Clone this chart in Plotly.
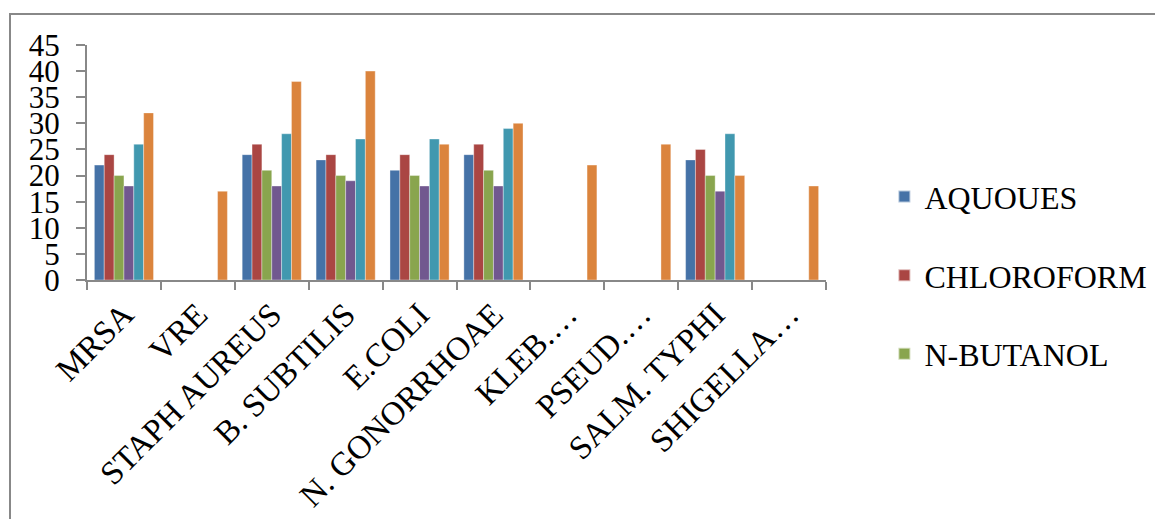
import plotly.graph_objects as go

categories = ["MRSA", "VRE", "STAPH AUREUS", "B. SUBTILIS", "E.COLI",
              "N. GONORRHOAE", "KLEB.…", "PSEUD.…", "SALM. TYPHI", "SHIGELLA…"]

aquoues = [22, None, 24, 23, 21, 24, None, None, 23, None]
chloroform = [24, None, 26, 24, 24, 26, None, None, 25, None]
n_butanol = [20, None, 21, 20, 20, 21, None, None, 20, None]
series4 = [18, None, 18, 19, 18, 18, None, None, 17, None]
series5 = [26, None, 28, 27, 27, 29, None, None, 28, None]
series6 = [32, 17, 38, 40, 26, 30, 22, 26, 20, 18]

series = [
    ("AQUOUES", aquoues, "#4572A7", True),
    ("CHLOROFORM", chloroform, "#AA4643", True),
    ("N-BUTANOL", n_butanol, "#89A54E", True),
    ("Series4", series4, "#71588F", False),
    ("Series5", series5, "#4198AF", False),
    ("Series6", series6, "#DB843D", False),
]

fig = go.Figure()
for i, (name, vals, color, show) in enumerate(series):
    fig.add_trace(go.Bar(
        x=categories, y=vals, name=name, showlegend=show,
        legendgroup=f"g{i}",
        marker=dict(color=color, line=dict(color="rgba(255,255,255,0.6)", width=0.6)),
    ))

font_family = "Liberation Serif, Times New Roman, serif"

# page body has an 8px margin, so the figure is offset by 8px
fig.update_layout(
    width=1155, height=511,
    margin=dict(l=79, r=337, t=37, b=239, autoexpand=False),
    paper_bgcolor="white", plot_bgcolor="white",
    barmode="group", bargap=0.2, bargroupgap=0,
    font=dict(family=font_family, color="black"),
    legend=dict(
        x=1.079, y=0.02, xanchor="left", yanchor="middle",
        font=dict(size=32, family=font_family),
        traceorder="grouped", tracegroupgap=34,
        itemsizing="constant",
    ),
    xaxis=dict(
        type="category", tickangle=-45, tickson="boundaries",
        ticks="outside", ticklen=8, tickwidth=2, tickcolor="#888888",
        showline=True, linecolor="#888888", linewidth=2,
        tickfont=dict(size=33, family=font_family),
        showgrid=False, automargin=False,
    ),
    yaxis=dict(
        range=[0, 45], dtick=5, tick0=0,
        ticks="outside", ticklen=9, tickwidth=2, tickcolor="#888888",
        showline=True, linecolor="#888888", linewidth=2,
        tickfont=dict(size=31, family=font_family),
        showgrid=False, zeroline=False, ticklabelstandoff=10,
        automargin=False,
    ),
    shapes=[dict(
        type="rect", xref="paper", yref="paper",
        x0=-0.1042, x1=1.6, y0=-2.0, y1=1.1319,
        line=dict(color="#888888", width=2), fillcolor="rgba(0,0,0,0)",
        layer="below",
    )],
)

fig.write_html("out.html")
